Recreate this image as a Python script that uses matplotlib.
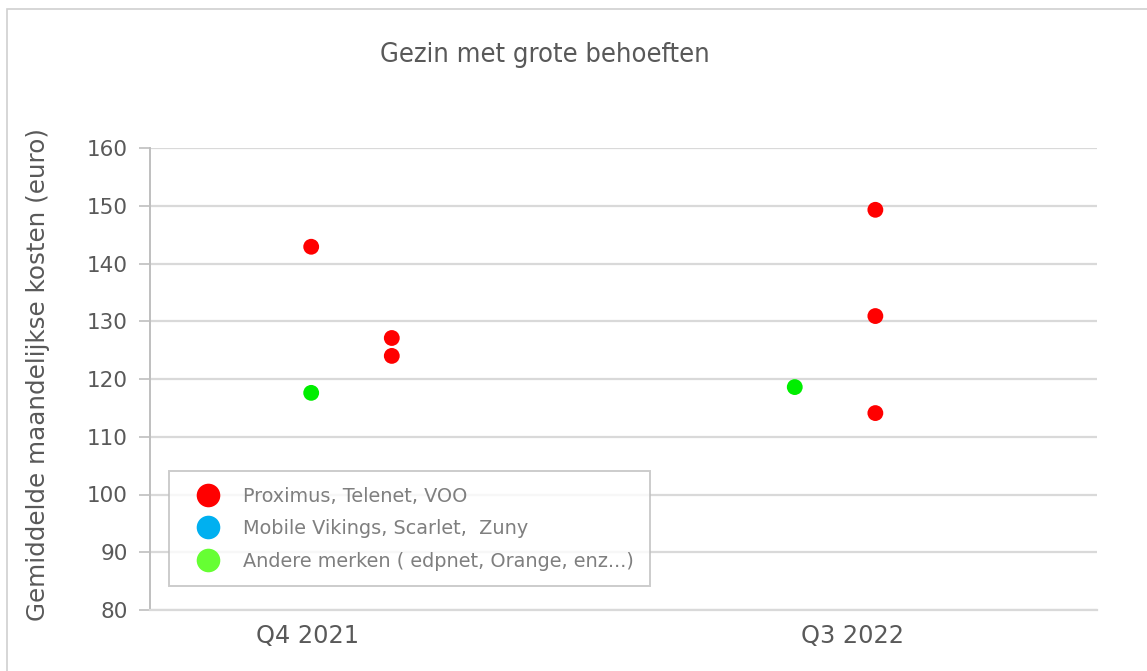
import matplotlib
matplotlib.use("Agg")
import matplotlib.pyplot as plt
from matplotlib.patches import Rectangle

# Average monthly cost for a family with high needs, per provider group
period_labels = ["Q4 2021", "Q3 2022"]
period_label_pos = [1.95, 8.72]

big3_x = [2, 3, 3, 9, 9, 9]
big3_y = [142.9, 127.1, 124.0, 149.3, 130.9, 114.1]

mid_x = []
mid_y = []

other_x = [2, 8]
other_y = [117.6, 118.6]

series_names = [
    "Proximus, Telenet, VOO",
    "Mobile Vikings, Scarlet,  Zuny",
    "Andere merken ( edpnet, Orange, enz...)",
]

y_ticks = [80, 90, 100, 110, 120, 130, 140, 150, 160]

TEXT = "#595959"
GRID = "#d9d9d9"

plt.rcParams["font.family"] = ["DejaVu Sans"]

fig = plt.figure(figsize=(11.47, 6.71), dpi=100)
fig.patches.append(Rectangle((7 / 1147, -0.1), 1.2, 1 - 9 / 671 + 0.1,
                             transform=fig.transFigure, fill=False,
                             edgecolor="#d0d0d0", linewidth=1.2))

ax = fig.add_axes([150 / 1147, 1 - 610 / 671, 947 / 1147, 462 / 671])

ax.scatter(big3_x, big3_y, s=130, color="#ff0000", edgecolors="none", zorder=3)
ax.scatter(mid_x, mid_y, s=130, color="#00b0f0", edgecolors="none", zorder=3)
ax.scatter(other_x, other_y, s=130, color="#00ee00", edgecolors="none", zorder=3)

ax.set_xlim(0, 11.75)
ax.set_ylim(80, 160)
ax.set_yticks(y_ticks)
ax.set_xticks(period_label_pos)
ax.set_xticklabels(period_labels)
ax.tick_params(axis="x", length=0, pad=10, labelsize=17.3, labelcolor=TEXT)
ax.tick_params(axis="y", length=8, width=1.2, color="#bfbfbf", pad=8,
               labelsize=15.5, labelcolor=TEXT)
ax.grid(axis="y", color=GRID, linewidth=1.6)
ax.set_axisbelow(True)
for side in ("top", "right"):
    ax.spines[side].set_visible(False)
ax.spines["left"].set_color("#bfbfbf")
ax.spines["left"].set_linewidth(1.4)
ax.spines["bottom"].set_color(GRID)
ax.spines["bottom"].set_linewidth(1.6)

ax.set_ylabel("Gemiddelde maandelijkse kosten (euro)", fontsize=17.7,
              color=TEXT)
ax.yaxis.set_label_coords(-0.1056, 0.5087)

fig.text(545 / 1147, 1 - 55 / 671, "Gezin met grote behoeften",
         ha="center", va="center", fontsize=19.5, color=TEXT,
         fontstretch="condensed")

legend_colors = ["#ff0000", "#00b0f0", "#66ff33"]
handles = [plt.Line2D([], [], linestyle="none", marker="o", markersize=17,
                      markerfacecolor=c, markeredgecolor="none")
           for c in legend_colors]
leg = ax.legend(handles, series_names, loc="lower left",
                bbox_to_anchor=(19 / 947, 24 / 462), frameon=True,
                fontsize=13.9, labelcolor="#7f7f7f", handletextpad=0.65,
                handlelength=2.4, labelspacing=0.7, borderpad=0.8,
                fancybox=False, borderaxespad=0)
leg.get_frame().set_edgecolor("#bfbfbf")
leg.get_frame().set_linewidth(1.4)

fig.savefig("out.png", dpi=100)
